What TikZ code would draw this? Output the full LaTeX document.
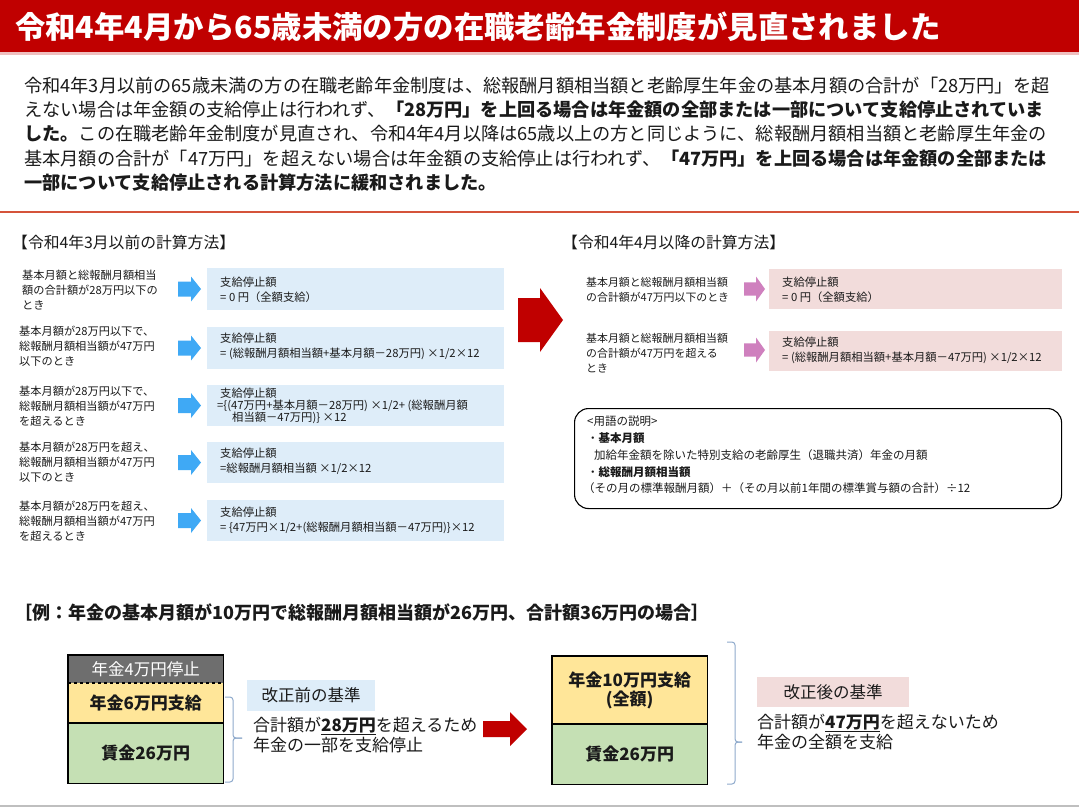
\documentclass[tikz,border=0pt]{standalone}
\usepackage{fontspec}
\setmainfont{Noto Sans CJK JP}
\definecolor{hdrred}{HTML}{C00000}
\definecolor{rulered}{HTML}{D5533A}
\definecolor{boxblue}{HTML}{DEEDF9}
\definecolor{arrblue}{HTML}{3FA9F5}
\definecolor{boxpink}{HTML}{F2DCDB}
\definecolor{arrpink}{HTML}{CF80BE}
\definecolor{stopgray}{HTML}{6E6E6E}
\definecolor{payyellow}{HTML}{FFE699}
\definecolor{wagegreen}{HTML}{C5E0B4}
\definecolor{bracecol}{HTML}{8FAACC}
\definecolor{txtcol}{HTML}{1A1A1A}
\newcommand\rsarrow[7]{\fill[#1] (#2,{#3-#6}) -- (#4,{#3-#6}) -- (#4,{#3-#7}) -- (#5,#3) -- (#4,{#3+#7}) -- (#4,{#3+#6}) -- (#2,{#3+#6}) -- cycle;}
\begin{document}
\begin{tikzpicture}[x=1pt,y=-1pt,
  txt/.style={inner sep=0pt, anchor=west, align=left, text=txtcol},
  para/.style={txt, font=\fontsize{18.2}{24}\selectfont},
  cond/.style={txt, font=\fontsize{11.2}{15}\selectfont},
  condr/.style={txt, font=\fontsize{10.9}{15}\selectfont},
  btxt/.style={txt, font=\fontsize{11.3}{15}\selectfont},
  bluebox/.style={fill=boxblue, inner sep=0pt, anchor=north west, minimum width=297pt},
  pinkbox/.style={fill=boxpink, inner sep=0pt, anchor=north west, minimum width=293pt, minimum height=40pt},
  sechead/.style={txt, font=\fontsize{15.8}{18}\selectfont},
  stk/.style={inner sep=0pt, anchor=north west, minimum width=155pt, align=center, font=\fontsize{17}{19}\selectfont\bfseries, text=txtcol},
  stkline/.style={draw=black, line width=1.1pt},
  brace/.style={draw=bracecol, line width=1pt, rounded corners=3pt},
  crit/.style={inner sep=0pt, anchor=north west, font=\fontsize{16.5}{18}\selectfont, text=txtcol},
  expl/.style={txt, font=\fontsize{17}{20.5}\selectfont}
]
\useasboundingbox (0,0) rectangle (1079,809);
\fill[white] (0,0) rectangle (1079,809);

% header
\fill[hdrred] (0,0) rectangle (1079,52);
\fill[hdrred!25] (0,52) rectangle (1079,55);
\node[inner sep=0pt, anchor=west, text=white, font=\fontsize{30.4}{32}\selectfont\bfseries] (title) at (15,27) {令和4年4月から65歳未満の方の在職老齢年金制度が見直されました};

% paragraph
\node[para] (p1) at (24,86) {令和4年3月以前の65歳未満の方の在職老齢年金制度は、総報酬月額相当額と老齢厚生年金の基本月額の合計が「28万円」を超};
\node[para] (p2) at (24,110) {えない場合は年金額の支給停止は行われず、\textbf{「28万円」を上回る場合は年金額の全部または一部について支給停止されていま}};
\node[para] (p3) at (24,134) {\textbf{した。}この在職老齢年金制度が見直され、令和4年4月以降は65歳以上の方と同じように、総報酬月額相当額と老齢厚生年金の};
\node[para] (p4) at (24,159) {基本月額の合計が「47万円」を超えない場合は年金額の支給停止は行われず、\textbf{「47万円」を上回る場合は年金額の全部または}};
\node[para] (p5) at (24,183) {\textbf{一部について支給停止される計算方法に緩和されました。}};

\draw[rulered, line width=2.5pt] (0,212) -- (1079,212);

% left section
\node[sechead] (lhead) at (12,242) {【令和4年3月以前の計算方法】};

\node[cond] (lc1) at (22,290) {基本月額と総報酬月額相当\\額の合計額が28万円以下の\\とき};
\node[cond] (lc2) at (19,346) {基本月額が28万円以下で、\\総報酬月額相当額が47万円\\以下のとき};
\node[cond] (lc3) at (19,406) {基本月額が28万円以下で、\\総報酬月額相当額が47万円\\を超えるとき};
\node[cond] (lc4) at (19,462) {基本月額が28万円を超え、\\総報酬月額相当額が47万円\\以下のとき};
\node[cond] (lc5) at (19,521) {基本月額が28万円を超え、\\総報酬月額相当額が47万円\\を超えるとき};

\rsarrow{arrblue}{178}{289}{191}{201}{7.5}{12.5}
\rsarrow{arrblue}{178}{348}{191}{201}{7.5}{12.5}
\rsarrow{arrblue}{178}{405.5}{191}{201}{7.5}{12.5}
\rsarrow{arrblue}{178}{462.5}{191}{201}{7.5}{12.5}
\rsarrow{arrblue}{178}{520.5}{191}{201}{7.5}{12.5}

\node[bluebox, minimum height=42pt] (lb1) at (207,268) {};
\node[bluebox, minimum height=42pt] (lb2) at (207,327) {};
\node[bluebox, minimum height=41pt] (lb3) at (207,385) {};
\node[bluebox, minimum height=41pt] (lb4) at (207,442) {};
\node[bluebox, minimum height=41pt] (lb5) at (207,500) {};

\node[btxt] (lt1) at (220,289.5) {支給停止額\\= 0 円（全額支給）};
\node[btxt] (lt2) at (220,346) {支給停止額\\= (総報酬月額相当額+基本月額－28万円) ×1/2×12};
\node[btxt, font=\fontsize{11.3}{11.8}\selectfont] (lt3) at (217,406) {\hspace*{3pt}支給停止額\\=\{(47万円+基本月額－28万円) ×1/2+ (総報酬月額\\\hspace*{15pt}相当額－47万円)\} ×12};
\node[btxt] (lt4) at (220,461) {支給停止額\\=総報酬月額相当額 ×1/2×12};
\node[btxt] (lt5) at (220,520) {支給停止額\\= \{47万円×1/2+(総報酬月額相当額－47万円)\}×12};

% big red arrow
\rsarrow{hdrred}{518}{320}{540}{563}{22}{32}

% right section
\node[sechead] (rhead) at (562,242) {【令和4年4月以降の計算方法】};
\node[condr] (rc1) at (586,289.5) {基本月額と総報酬月額相当額\\の合計額が47万円以下のとき};
\node[condr] (rc2) at (586,353) {基本月額と総報酬月額相当額\\の合計額が47万円を超える\\とき};

\rsarrow{arrpink}{744}{289}{756}{765}{6.7}{12.5}
\rsarrow{arrpink}{744}{350}{756}{765}{6.7}{12.5}

\node[pinkbox] (rb1) at (769,269) {};
\node[pinkbox] (rb2) at (769,331) {};
\node[btxt] (rt1) at (782,289.5) {支給停止額\\= 0 円（全額支給）};
\node[btxt] (rt2) at (782,350.5) {支給停止額\\= (総報酬月額相当額+基本月額－47万円) ×1/2×12};

% terms box
\node[draw=black, line width=1.1pt, rounded corners=14pt, inner sep=0pt, anchor=north west, minimum width=487pt, minimum height=100pt] (terms) at (574,408) {};
\node[txt, font=\fontsize{11.5}{16.8}\selectfont] (termtxt) at (587,455) {<用語の説明>\\・\textbf{基本月額}\\\hspace*{7pt}加給年金額を除いた特別支給の老齢厚生（退職共済）年金の月額\\・\textbf{総報酬月額相当額}\\\hspace*{-4pt}（その月の標準報酬月額）＋（その月以前1年間の標準賞与額の合計）÷12};

% example heading
\node[txt, font=\fontsize{18}{20}\selectfont\bfseries] (exhead) at (14,612) {［例：年金の基本月額が10万円で総報酬月額相当額が26万円、合計額36万円の場合］};

% left stack
\node[stk, fill=stopgray, minimum height=28pt, text=white, font=\fontsize{16.5}{19}\selectfont] (ls) at (68,655) {年金4万円停止};
\node[stk, fill=payyellow, minimum height=40pt] (ly) at (68,683) {年金6万円支給};
\node[stk, fill=wagegreen, minimum height=60pt] (lg) at (68,723) {賃金26万円};
\draw[stkline] (ls.north west) rectangle (lg.south east);
\draw[black, line width=1.1pt, dashed] (ly.north west) -- (ly.north east);
\draw[stkline] (lg.north west) -- (lg.north east);

% left brace
\coordinate (lbtop) at (225,697);
\coordinate (lbmid) at (242,738);
\coordinate (lbbot) at (225,782);
\draw[brace] (lbtop) -- (233,697) -- (233,738) -- (lbmid);
\draw[brace] (lbmid) -- (233,738) -- (233,782) -- (lbbot);

\node[crit, fill=boxblue, minimum width=128pt, minimum height=31pt] (krmae) at (247,680) {改正前の基準};
\node[expl] (lexpl) at (253,735) {合計額が\underline{\textbf{28万円}}を超えるため\\年金の一部を支給停止};

% bottom red arrow
\rsarrow{hdrred}{483}{729}{510}{527}{8}{17}

% right stack
\node[stk, fill=payyellow, minimum height=68pt] (ry) at (552,656) {年金10万円支給\\(全額)};
\node[stk, fill=wagegreen, minimum height=60pt] (rg) at (552,724) {賃金26万円};
\draw[stkline] (ry.north west) rectangle (rg.south east);
\draw[stkline] (rg.north west) -- (rg.north east);

% right brace
\coordinate (rbtop) at (727,642);
\coordinate (rbmid) at (742,742);
\coordinate (rbbot) at (727,784);
\draw[brace] (rbtop) -- (735,642) -- (735,742) -- (rbmid);
\draw[brace] (rbmid) -- (735,742) -- (735,784) -- (rbbot);

\node[crit, fill=boxpink, minimum width=152pt, minimum height=30pt] (krgo) at (757,677) {改正後の基準};
\node[expl] (rexpl) at (757,732) {合計額が\underline{\textbf{47万円}}を超えないため\\年金の全額を支給};

\draw[black!25, line width=2pt] (0,806) -- (1079,806);
\end{tikzpicture}
\end{document}
